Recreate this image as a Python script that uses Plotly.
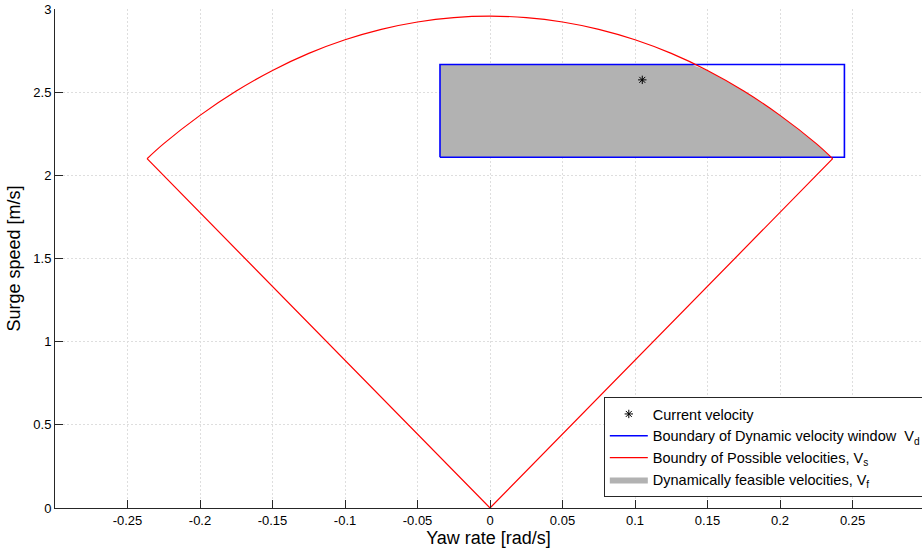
import plotly.graph_objects as go

# ---- data ----
arc_x = [-0.2365, -0.225, -0.2, -0.175, -0.15, -0.125, -0.1, -0.075, -0.05, -0.025, 0.0,
         0.025, 0.05, 0.075, 0.1, 0.125, 0.15, 0.175, 0.2, 0.225, 0.2363]
arc_y = [2.100, 2.1905, 2.3605, 2.5068, 2.6305, 2.7330, 2.8150, 2.8777, 2.9220, 2.9483, 2.957,
         2.9483, 2.9220, 2.8777, 2.8150, 2.7330, 2.6305, 2.5068, 2.3605, 2.1905, 2.100]

edge_x = [-0.2365, 0.0, 0.2363]
edge_y = [2.100, 0.0, 2.100]

window_x = [-0.0345, 0.2444, 0.2444, -0.0345, -0.0345]
window_y = [2.109, 2.109, 2.666, 2.666, 2.109]

feasible_x = [-0.0345, -0.0345, 0.1385, 0.15, 0.175, 0.2, 0.225, 0.2352]
feasible_y = [2.109, 2.666, 2.666, 2.6305, 2.5068, 2.3605, 2.1905, 2.109]

current_x = [0.105]
current_y = [2.574]

x_ticks = [-0.25, -0.2, -0.15, -0.1, -0.05, 0, 0.05, 0.1, 0.15, 0.2, 0.25]
x_labels = ["-0.25", "-0.2", "-0.15", "-0.1", "-0.05", "0", "0.05", "0.1", "0.15", "0.2", "0.25"]
y_ticks = [0, 0.5, 1, 1.5, 2, 2.5, 3]
y_labels = ["0", "0.5", "1", "1.5", "2", "2.5", "3"]

FONT = "Liberation Sans, Arial, sans-serif"
AXC = "#262626"
GRID = "#dedede"

fig = go.Figure()

fig.add_trace(go.Scatter(
    x=feasible_x, y=feasible_y, mode="lines", fill="toself",
    fillcolor="#b2b2b2", line=dict(width=0, color="#b2b2b2"),
    name="Dynamically feasible velocities, V<sub>f</sub>", legendrank=4))

fig.add_trace(go.Scatter(
    x=window_x, y=window_y, mode="lines",
    line=dict(color="#0000ff", width=1.6),
    name="Boundary of Dynamic velocity window&nbsp; V<sub>d</sub>", legendrank=2))

fig.add_trace(go.Scatter(
    x=arc_x, y=arc_y, mode="lines",
    line=dict(color="#ff0000", width=1.2, shape="spline", smoothing=1),
    name="Boundry of Possible velocities, V<sub>s</sub>", legendgroup="vs", legendrank=3))

fig.add_trace(go.Scatter(
    x=edge_x, y=edge_y, mode="lines",
    line=dict(color="#ff0000", width=1.2),
    name="edges", legendgroup="vs", showlegend=False))

fig.add_trace(go.Scatter(
    x=current_x, y=current_y, mode="markers",
    marker=dict(symbol="asterisk-open", size=7, color="black",
                line=dict(color="black", width=1)),
    name="Current velocity", legendrank=1))

fig.update_layout(
    template="none",
    width=922, height=551,
    margin=dict(l=55, r=0, t=9, b=43, autoexpand=False),
    paper_bgcolor="white", plot_bgcolor="white",
    font=dict(family=FONT, size=13, color=AXC),
    showlegend=True,
    legend=dict(
        x=0.633, y=0.2224, xanchor="left", yanchor="top",
        bgcolor="white", bordercolor=AXC, borderwidth=1,
        font=dict(family=FONT, size=14.5, color="black"),
        tracegroupgap=0, itemwidth=38,
    ),
)

fig.update_xaxes(
    range=[-0.3, 0.2979], tickvals=x_ticks, ticktext=x_labels,
    ticks="inside", ticklen=8, tickcolor=AXC, tickwidth=1,
    showline=True, linecolor=AXC, linewidth=1, mirror=False,
    showgrid=True, gridcolor=GRID, griddash="2px,2px", gridwidth=1,
    zeroline=False, automargin=False,
    tickfont=dict(family=FONT, size=13, color="black"),
    title=dict(text="Yaw rate [rad/s]", font=dict(family=FONT, size=18, color="black"), standoff=4),
)
fig.update_yaxes(
    range=[0, 3], tickvals=y_ticks, ticktext=y_labels,
    ticks="inside", ticklen=8, tickcolor=AXC, tickwidth=1,
    showline=True, linecolor=AXC, linewidth=1, mirror=False,
    showgrid=True, gridcolor=GRID, griddash="2px,2px", gridwidth=1,
    zeroline=False, automargin=False,
    tickfont=dict(family=FONT, size=13, color="black"),
    title=dict(text="Surge speed [m/s]", font=dict(family=FONT, size=18, color="black"), standoff=8),
)

fig.write_html("out.html")
